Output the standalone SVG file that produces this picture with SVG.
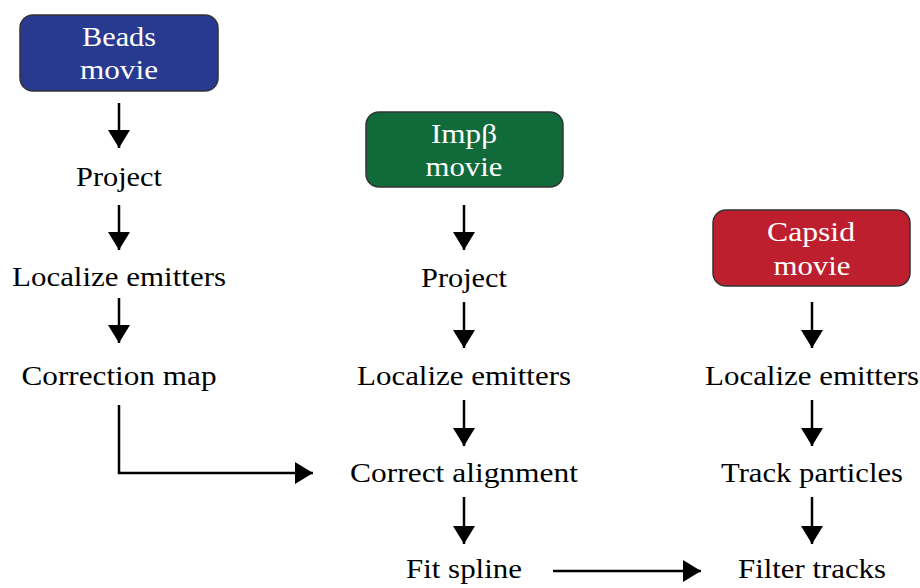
<svg xmlns="http://www.w3.org/2000/svg" width="920" height="588" viewBox="0 0 920 588">
<style>
.lbl{font-family:"Liberation Serif","DejaVu Serif",serif;font-size:27px;fill:#000;text-anchor:middle}
.bt{font-family:"Liberation Serif","DejaVu Serif",serif;font-size:28px;fill:#fff;text-anchor:middle}
.box{stroke:#333;stroke-width:1.5}
.ar{stroke:#000;stroke-width:2.5;fill:none}
</style>
<defs>
<marker id="ah" markerUnits="userSpaceOnUse" markerWidth="20" markerHeight="24" refX="18" refY="12" orient="auto">
<polygon points="0,1 18,12 0,23" fill="#000"/>
</marker>
</defs>
<rect width="920" height="588" fill="#fff"/>
<g id="beads">
<rect class="box" x="20" y="15" width="198" height="76" rx="13" fill="#283a8f"/>
<text class="bt" x="119" y="46" textLength="74" lengthAdjust="spacingAndGlyphs">Beads</text>
<text class="bt" x="119" y="79" textLength="78" lengthAdjust="spacingAndGlyphs">movie</text>
</g>
<g id="impb">
<rect class="box" x="366" y="112" width="197" height="75" rx="13" fill="#116a3a"/>
<text class="bt" x="464" y="143" textLength="66" lengthAdjust="spacingAndGlyphs">Impβ</text>
<text class="bt" x="464" y="176" textLength="77" lengthAdjust="spacingAndGlyphs">movie</text>
</g>
<g id="capsid">
<rect class="box" x="713" y="210" width="197" height="76" rx="13" fill="#bd1f2e"/>
<text class="bt" x="811" y="241" textLength="88" lengthAdjust="spacingAndGlyphs">Capsid</text>
<text class="bt" x="812" y="275" textLength="77" lengthAdjust="spacingAndGlyphs">movie</text>
</g>
<g id="b-project"><text class="lbl" x="119" y="186" textLength="86" lengthAdjust="spacingAndGlyphs">Project</text></g>
<g id="b-localize"><text class="lbl" x="119" y="286" textLength="214" lengthAdjust="spacingAndGlyphs">Localize emitters</text></g>
<g id="b-correction"><text class="lbl" x="119" y="385" textLength="195" lengthAdjust="spacingAndGlyphs">Correction map</text></g>
<g id="i-project"><text class="lbl" x="464" y="287" textLength="86" lengthAdjust="spacingAndGlyphs">Project</text></g>
<g id="i-localize"><text class="lbl" x="464" y="385" textLength="214" lengthAdjust="spacingAndGlyphs">Localize emitters</text></g>
<g id="i-correct"><text class="lbl" x="464" y="482" textLength="228" lengthAdjust="spacingAndGlyphs">Correct alignment</text></g>
<g id="i-fit"><text class="lbl" x="464" y="578" textLength="116" lengthAdjust="spacingAndGlyphs">Fit spline</text></g>
<g id="c-localize"><text class="lbl" x="812" y="385" textLength="214" lengthAdjust="spacingAndGlyphs">Localize emitters</text></g>
<g id="c-track"><text class="lbl" x="812" y="482" textLength="182" lengthAdjust="spacingAndGlyphs">Track particles</text></g>
<g id="c-filter"><text class="lbl" x="812" y="578" textLength="148" lengthAdjust="spacingAndGlyphs">Filter tracks</text></g>
<g id="connectors">
<line class="ar" x1="119" y1="103" x2="119" y2="148" marker-end="url(#ah)"/>
<line class="ar" x1="119" y1="205" x2="119" y2="250" marker-end="url(#ah)"/>
<line class="ar" x1="119" y1="298" x2="119" y2="343" marker-end="url(#ah)"/>
<polyline class="ar" points="119,405 119,473 313,473" marker-end="url(#ah)"/>
<line class="ar" x1="464" y1="205" x2="464" y2="250" marker-end="url(#ah)"/>
<line class="ar" x1="464" y1="302" x2="464" y2="348" marker-end="url(#ah)"/>
<line class="ar" x1="464" y1="400" x2="464" y2="446" marker-end="url(#ah)"/>
<line class="ar" x1="464" y1="497" x2="464" y2="544" marker-end="url(#ah)"/>
<line class="ar" x1="553" y1="571" x2="701" y2="571" marker-end="url(#ah)"/>
<line class="ar" x1="812" y1="302" x2="812" y2="348" marker-end="url(#ah)"/>
<line class="ar" x1="812" y1="400" x2="812" y2="446" marker-end="url(#ah)"/>
<line class="ar" x1="812" y1="497" x2="812" y2="544" marker-end="url(#ah)"/>
</g>
</svg>
